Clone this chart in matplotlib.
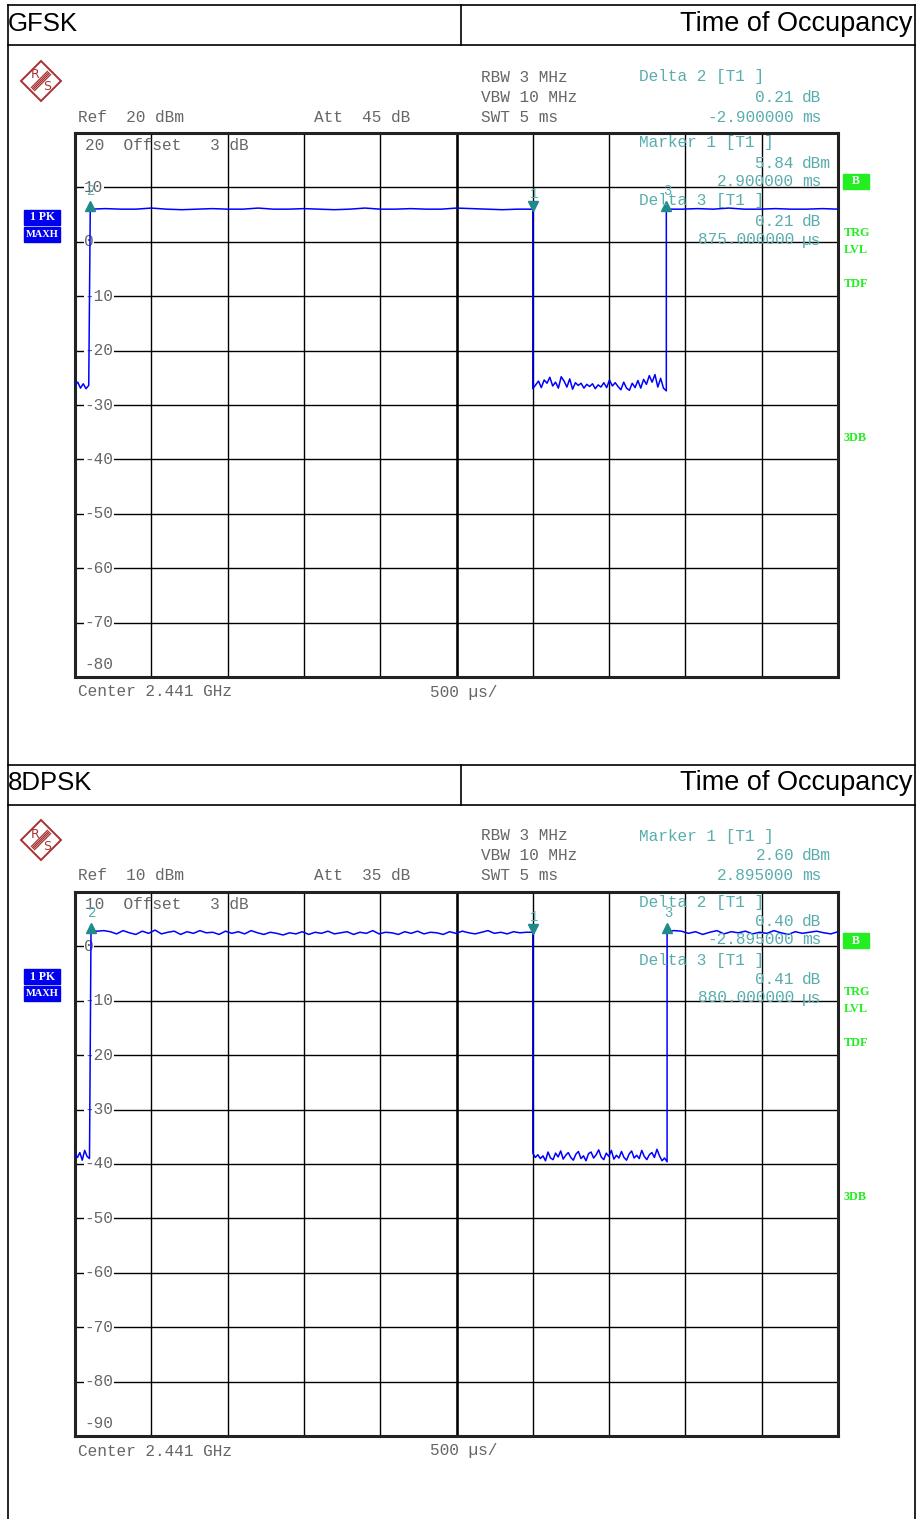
import numpy as np
import matplotlib.pyplot as plt
from matplotlib.patches import Polygon, Rectangle
import matplotlib.transforms as mtrans

plt.rcParams['font.family'] = ['DejaVu Sans']

# ---------------- data ----------------
titles = ['GFSK', '8DPSK']
page_title = 'Time of Occupancy'

# GFSK trace (dBm), sweep 0..5 ms
gfsk_pre = [-26.3, -25.8, -26.9, -26.1, -27.0, -26.4]
gfsk_on1 = [6.0, 6.1, 6.0, 6.0, 6.2, 6.0, 5.9, 6.0, 6.1, 6.0, 6.0, 6.2, 6.0, 6.0, 6.1,
            6.0, 5.9, 6.0, 6.2, 6.0, 6.0, 6.1, 6.0, 6.0, 6.2, 6.1, 6.0, 5.9, 6.0, 6.0]
gfsk_off = [-27.0, -26.3, -25.6, -26.8, -25.4, -26.0, -24.9, -26.5, -25.8, -26.9, -24.8, -25.6,
            -26.7, -25.2, -27.1, -25.9, -26.4, -26.0, -26.9, -26.2, -26.6, -26.1, -27.0, -26.3,
            -26.7, -25.9, -26.8, -25.4, -26.5, -25.9, -26.6, -27.2, -25.8, -26.9, -27.3, -26.0,
            -26.8, -25.5, -26.9, -25.3, -26.2, -24.6, -25.8, -24.4, -26.7, -25.1, -26.9, -27.4]
gfsk_on2 = [6.0, 6.0, 6.1, 6.0, 6.2, 6.0, 6.0, 6.1, 6.0, 6.0, 6.1, 6.0]

# 8DPSK trace (dBm)
dpsk_pre = [-38.2, -38.8, -37.9, -39.3, -37.5, -38.6, -39.0]
dpsk_on1 = [2.9, 2.8, 2.9, 2.7, 2.3, 2.9, 2.5, 2.2, 2.8, 2.4, 3.0, 2.3, 2.6, 2.8, 2.2, 2.7,
            2.4, 2.9, 2.5, 2.6, 2.2, 2.8, 2.4, 2.7, 2.3, 2.9, 2.5, 2.2, 2.6, 2.4, 2.1, 2.5,
            2.3, 2.7, 2.2, 2.6, 2.4, 2.8, 2.3, 2.5, 2.7, 2.2, 2.6, 2.4, 2.9, 2.3, 2.6, 2.5,
            2.2, 2.7, 2.4, 2.8, 2.3, 2.6, 2.5, 2.2, 2.7, 2.4, 2.8, 2.5, 2.3, 2.6, 2.9, 2.4,
            2.6, 2.3, 2.7, 2.5, 2.6, 2.6]
dpsk_off = [-38.0, -38.8, -38.3, -39.0, -38.5, -39.4, -37.8, -38.9, -39.2, -38.0, -38.7,
            -37.6, -39.1, -38.4, -37.9, -38.8, -39.3, -38.2, -37.7, -39.0, -38.5, -39.4,
            -38.1, -37.8, -38.9, -38.3, -37.4, -38.7, -39.2, -38.0, -38.6, -37.5, -39.1,
            -38.4, -38.9, -37.7, -38.8, -39.3, -38.2, -37.6, -38.9, -38.4, -39.0, -37.5,
            -38.6, -39.2, -38.3, -37.9, -38.8, -37.3, -38.5, -39.4, -38.9, -39.6]
dpsk_on2 = [2.8, 2.9, 2.8, 2.4, 2.7, 2.2, 2.6, 2.9, 2.3, 2.7, 2.5, 2.8, 2.3, 2.6, 2.4,
            2.9, 2.5, 2.2, 2.7, 2.4, 2.6, 2.8, 2.5, 2.3, 2.7]

# marker times (ms) and levels (dBm)
gfsk_mk_t = [3.0, 0.1, 3.875]
gfsk_mk_db = [6.0, 6.0, 6.0]
dpsk_mk_t = [3.0, 0.105, 3.88]
dpsk_mk_db = [2.6, 2.9, 2.8]

ref_levels = [20, 10]
atts = [45, 35]

gfsk_info_top = ['Delta 2 [T1 ]', ('0.21', 'dB'), ('-2.900000', 'ms')]
gfsk_info_in = ['Marker 1 [T1 ]', ('5.84', 'dBm'), ('2.900000', 'ms'),
                'Delta 3 [T1 ]', ('0.21', 'dB'), ('875.000000', 'µs')]
dpsk_info_top = ['Marker 1 [T1 ]', ('2.60', 'dBm'), ('2.895000', 'ms')]
dpsk_info_in = ['Delta 2 [T1 ]', ('0.40', 'dB'), ('-2.895000', 'ms'),
                'Delta 3 [T1 ]', ('0.41', 'dB'), ('880.000000', 'µs')]


def build_trace(pre, on1, off, on2, t_on, t_off, t_on2):
    t = np.concatenate([np.linspace(0.0, t_on - 0.01, len(pre)),
                        np.linspace(t_on, t_off, len(on1)),
                        np.linspace(t_off, t_on2, len(off)),
                        np.linspace(t_on2, 5.0, len(on2))])
    v = np.concatenate([pre, on1, off, on2])
    return t, v


gfsk_t, gfsk_v = build_trace(gfsk_pre, gfsk_on1, gfsk_off, gfsk_on2, 0.1, 3.0, 3.875)
dpsk_t, dpsk_v = build_trace(dpsk_pre, dpsk_on1, dpsk_off, dpsk_on2, 0.105, 3.0, 3.88)

# ---------------- figure ----------------
W, H = 917, 1519
fig = plt.figure(figsize=(W / 100, H / 100), dpi=100)
fig.patch.set_facecolor('white')

MONO = 'Liberation Mono'
GRAY = '#666666'
CYAN = '#5aadad'
TEAL = '#1f8a8a'
GREEN = '#22ee22'

pg = fig.add_axes([0, 0, 1, 1], zorder=10)
pg.set_xlim(0, W)
pg.set_ylim(H, 0)
pg.axis('off')
pg.patch.set_alpha(0)

# page frame
for y in (5, 45, 765, 805):
    pg.plot([8, 915], [y, y], color='black', lw=1.2)
pg.plot([8, 8], [5, H], color='black', lw=1.2)
pg.plot([915, 915], [5, H], color='black', lw=1.2)
for y0 in (5, 765):
    pg.plot([461, 461], [y0, y0 + 40], color='black', lw=1.2)


def draw_panel(k, y0, t, v, mk_t, mk_db, info_top, info_in, ymin):
    # header
    pg.text(8, y0 + 19, titles[k], fontsize=18.5, family='Liberation Sans',
            ha='left', va='center')
    pg.text(912, y0 + 19, page_title, fontsize=19.5, family='Liberation Sans',
            ha='right', va='center')

    # R&S logo
    cx, cy = 41, y0 + 76
    pg.add_patch(Polygon([[cx, cy - 20], [cx + 20, cy], [cx, cy + 20], [cx - 20, cy]],
                         closed=True, fill=False, edgecolor='#a83232', lw=1.4))
    for d in (-1.6, -0.5, 0.5, 1.6):
        pg.plot([cx + 8 + d, cx - 8 + d], [cy - 8 + d, cy + 8 + d], color='#a83232', lw=0.9)
    pg.text(cx - 6, cy - 6, 'R', fontsize=9, color='#a83232', ha='center', va='center')
    pg.text(cx + 6, cy + 6, 'S', fontsize=9, color='#a83232', ha='center', va='center')

    # settings
    fs = 11.6
    for i, s in enumerate(['RBW 3 MHz', 'VBW 10 MHz', 'SWT 5 ms']):
        pg.text(481, y0 + 72 + 20 * i, s, family=MONO, fontsize=fs, color=GRAY, va='center')
    pg.text(78, y0 + 112, 'Ref  %d dBm' % ref_levels[k], family=MONO, fontsize=fs,
            color=GRAY, va='center')
    pg.text(314, y0 + 112, 'Att  %d dB' % atts[k], family=MONO, fontsize=fs,
            color=GRAY, va='center')

    def info(lines, ys):
        for s, yy in zip(lines, ys):
            if isinstance(s, str):
                pg.text(639, yy, s, family=MONO, fontsize=fs, color=CYAN, va='center')
            else:
                pg.text(794, yy, s[0], family=MONO, fontsize=fs, color=CYAN,
                        va='center', ha='right')
                pg.text(802, yy, s[1], family=MONO, fontsize=fs, color=CYAN,
                        va='center', ha='left')

    info(info_top, [y0 + 72, y0 + 92, y0 + 112])
    if k == 0:
        info(info_in, [y0 + 138, y0 + 158, y0 + 177, y0 + 196, y0 + 216, y0 + 235])
    else:
        info(info_in, [y0 + 138, y0 + 157, y0 + 176, y0 + 196, y0 + 215, y0 + 234])

    # side labels
    pg.add_patch(Rectangle((24, y0 + 205), 36, 15, color='#0000ee'))
    pg.add_patch(Rectangle((24, y0 + 222), 36, 15, color='#0000ee'))
    pg.text(42, y0 + 212.5, '1 PK', family='Liberation Serif', weight='bold',
            fontsize=8.5, color='white', ha='center', va='center')
    pg.text(42, y0 + 229.5, 'MAXH', family='Liberation Serif', weight='bold',
            fontsize=7.5, color='white', ha='center', va='center')
    pg.add_patch(Rectangle((843, y0 + 169), 26, 15, color=GREEN))
    pg.text(856, y0 + 176.5, 'B', family='Liberation Serif', weight='bold',
            fontsize=8.5, color='white', ha='center', va='center')
    for s, yy in [('TRG', 228), ('LVL', 245), ('TDF', 279), ('3DB', 433)]:
        pg.text(844, y0 + yy, s, family='Liberation Serif', weight='bold',
                fontsize=8.8, color=GREEN, ha='left', va='center')

    # footer
    pg.text(78, y0 + 687, 'Center 2.441 GHz', family=MONO, fontsize=fs, color=GRAY, va='center')
    pg.text(430, y0 + 687, '500 µs/', family=MONO, fontsize=fs, color=GRAY, va='center')

    # measurement axes
    top, bot = y0 + 128, y0 + 672
    ax = fig.add_axes([75 / W, 1 - bot / H, 763 / W, (bot - top) / H])
    ymax = ymin + 100
    ax.set_xlim(0, 5)
    ax.set_ylim(ymin, ymax)
    ax.set_xticks(np.arange(0, 5.01, 0.5))
    ax.set_yticks(np.arange(ymin, ymax + 1, 10))
    ax.grid(True, color='black', lw=1.0)
    ax.tick_params(length=0, labelleft=False, labelbottom=False)
    for sp in ax.spines.values():
        sp.set_linewidth(2.2)
        sp.set_color('#222222')
    ax.axvline(2.5, color='black', lw=1.8)

    ytr = ax.get_yaxis_transform()
    for val in np.arange(ymin, ymax, 10):
        if val == ymin:
            ax.text(0.012, val + 1.0, '%d' % val, transform=ytr, family=MONO, fontsize=fs,
                    color=GRAY, ha='left', va='bottom',
                    bbox=dict(facecolor='white', edgecolor='none', pad=0.5))
        else:
            ax.text(0.012, val, '%d' % val, transform=ytr, family=MONO, fontsize=fs,
                    color=GRAY, ha='left', va='center',
                    bbox=dict(facecolor='white', edgecolor='none', pad=0.5))
    ax.text(0.013, ymax - 1.0, '%d  Offset   3 dB' % ymax, transform=ytr, family=MONO,
            fontsize=fs, color=GRAY, ha='left', va='top')

    ax.plot(t, v, color='#0000ff', lw=1.1, zorder=3)

    # markers
    up = mtrans.offset_copy(ax.transData, fig=fig, x=0, y=3, units='dots')
    for j, (mt, md) in enumerate(zip(mk_t, mk_db)):
        mk = 'v' if j == 0 else '^'
        ax.plot([mt], [md], marker=mk, color=TEAL, ms=6.5, transform=up, zorder=4)
        ax.annotate(str(j + 1), (mt, md), xytext=(1, 13 if j else 11),
                    textcoords='offset points', family=MONO, fontsize=10,
                    color=CYAN, ha='center', va='center', zorder=5)
    return ax


draw_panel(0, 5, gfsk_t, gfsk_v, gfsk_mk_t, gfsk_mk_db, gfsk_info_top, gfsk_info_in, -80)
draw_panel(1, 764, dpsk_t, dpsk_v, dpsk_mk_t, dpsk_mk_db, dpsk_info_top, dpsk_info_in, -90)

fig.savefig('out.png', dpi=100)
